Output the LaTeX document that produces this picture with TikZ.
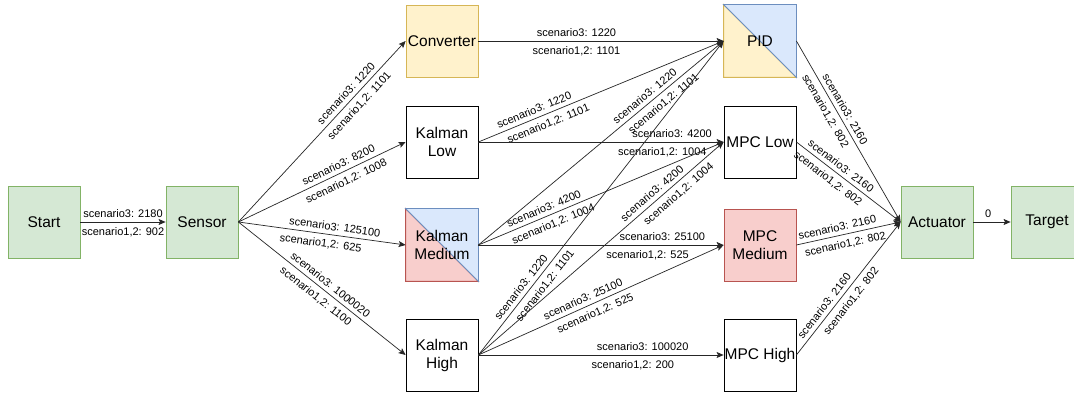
\documentclass[tikz,border=0pt]{standalone}
\usepackage{fontspec}
\setmainfont{Liberation Sans}
\usetikzlibrary{arrows.meta,backgrounds}
\definecolor{gfill}{HTML}{D5E8D4}
\definecolor{gline}{HTML}{82B366}
\definecolor{yfill}{HTML}{FFF2CC}
\definecolor{yline}{HTML}{D6B656}
\definecolor{bfill}{HTML}{DAE8FC}
\definecolor{bline}{HTML}{6C8EBF}
\definecolor{rfill}{HTML}{F8CECC}
\definecolor{rline}{HTML}{B85450}
\begin{document}
\begin{tikzpicture}[x=1pt,y=-1pt,
  box/.style={rectangle, minimum width=72pt, minimum height=72pt, inner sep=0pt,
    align=center, font=\fontsize{15.5}{18}\selectfont, line width=0.8pt},
  plainbox/.style={box, draw=black, fill=white},
  gbox/.style={box, draw=gline, fill=gfill},
  ybox/.style={box, draw=yline, fill=yfill},
  rbox/.style={box, draw=rline, fill=rfill},
  splitbox/.style={box},
  edge/.style={draw=black!85, line width=0.7pt, -{Stealth[length=7pt,width=6pt,inset=1.5pt]}},
  lab/.style={font=\fontsize{11}{12}\selectfont, inner sep=1.5pt, sloped, text=black},
  la/.style={lab, above=2.5pt},
  lb/.style={lab, below=3.5pt}
]
\useasboundingbox (0,0) rectangle (1074,395);

% nodes
\node[gbox] (start) at (44,222) {Start};
\node[gbox] (sensor) at (202,222) {Sensor};
\node[ybox] (conv) at (442,41) {Converter};
\node[plainbox] (klow) at (442,142) {Kalman\\Low};
\node[splitbox] (kmed) at (442,245) {Kalman\\Medium};
\node[plainbox] (khigh) at (442,355) {Kalman\\High};
\node[splitbox] (pid) at (760,41) {PID};
\node[plainbox] (mlow) at (760,142) {MPC Low};
\node[rbox] (mmed) at (760,245) {MPC\\Medium};
\node[plainbox] (mhigh) at (760,355) {MPC High};
\node[gbox] (act) at (937,222) {Actuator};
\node[gbox] (target) at (1047,222) {Target};

\begin{scope}[on background layer]
  \fill[white] (0,0) rectangle (1074,395);
  \filldraw[fill=yfill, draw=yline, line width=0.8pt] (pid.north west) -- (pid.south west) -- (pid.south east) -- cycle;
  \filldraw[fill=bfill, draw=bline, line width=0.8pt] (pid.north west) -- (pid.north east) -- (pid.south east) -- cycle;
  \filldraw[fill=rfill, draw=rline, line width=0.8pt] (kmed.north west) -- (kmed.south west) -- (kmed.south east) -- cycle;
  \filldraw[fill=bfill, draw=bline, line width=0.8pt] (kmed.north west) -- (kmed.north east) -- (kmed.south east) -- cycle;
\end{scope}

% edges
\draw[edge] (start.east) -- node[la,pos=.5]{scenario3: 2180} node[lb,pos=.5]{scenario1,2: 902} (sensor.west);

\draw[edge] (sensor.east) -- node[la,pos=.68]{scenario3: 1220} node[lb,pos=.68]{scenario1,2: 1101} (conv.west);
\draw[edge] (sensor.east) -- node[la,pos=.62]{scenario3: 8200} node[lb,pos=.62]{scenario1,2: 1008} (klow.west);
\draw[edge] (sensor.east) -- node[la,pos=.57]{scenario3: 125100} node[lb,pos=.5]{scenario1,2: 625} (kmed.west);
\draw[edge] (sensor.east) -- node[la,pos=.52]{scenario3: 1000020} node[lb,pos=.5]{scenario1,2: 1100} (khigh.west);

\draw[edge] (conv.east) -- node[la,pos=.4]{scenario3: 1220} node[lb,pos=.4]{scenario1,2: 1101} (pid.west);
\draw[edge] (klow.east) -- node[la,pos=.24]{scenario3: 1220} node[lb,pos=.27]{scenario1,2: 1101} (pid.west);
\draw[edge] (klow.east) -- node[la,pos=.79]{scenario3: 4200} node[lb,pos=.75]{scenario1,2: 1004} (mlow.west);

\draw[edge] (kmed.east) -- node[la,pos=.7]{scenario3: 1220} node[lb,pos=.73]{scenario1,2: 1101} (pid.west);
\draw[edge] (kmed.east) -- node[la,pos=.28]{scenario3: 4200} node[lb,pos=.29]{scenario1,2: 1004} (mlow.west);
\draw[edge] (kmed.east) -- node[la,pos=.75]{scenario3: 25100} node[lb,pos=.69]{scenario1,2: 525} (mmed.west);

\draw[edge] (khigh.east) -- node[la,pos=.2]{scenario3: 1220} node[lb,pos=.24]{scenario1,2: 1101} (pid.west);
\draw[edge] (khigh.east) -- node[la,pos=.73]{scenario3: 4200} node[lb,pos=.79]{scenario1,2: 1004} (mlow.west);
\draw[edge] (khigh.east) -- node[la,pos=.44]{scenario3: 25100} node[lb,pos=.46]{scenario1,2: 525} (mmed.west);
\draw[edge] (khigh.east) -- node[la,pos=.67]{scenario3: 100020} node[lb,pos=.63]{scenario1,2: 200} (mhigh.west);

\draw[edge] (pid.east) -- node[la,pos=.4]{scenario3: 2160} node[lb,pos=.36]{scenario1,2: 802} (act.west);
\draw[edge] (mlow.east) -- node[la,pos=.38]{scenario3: 2160} node[lb,pos=.36]{scenario1,2: 802} (act.west);
\draw[edge] (mmed.east) -- node[la,pos=.41]{scenario3: 2160} node[lb,pos=.45]{scenario1,2: 802} (act.west);
\draw[edge] (mhigh.east) -- node[la,pos=.33]{scenario3: 2160} node[lb,pos=.45]{scenario1,2: 802} (act.west);

\draw[edge] (act.east) -- node[la,pos=.4]{0} (target.west);
\end{tikzpicture}
\end{document}
